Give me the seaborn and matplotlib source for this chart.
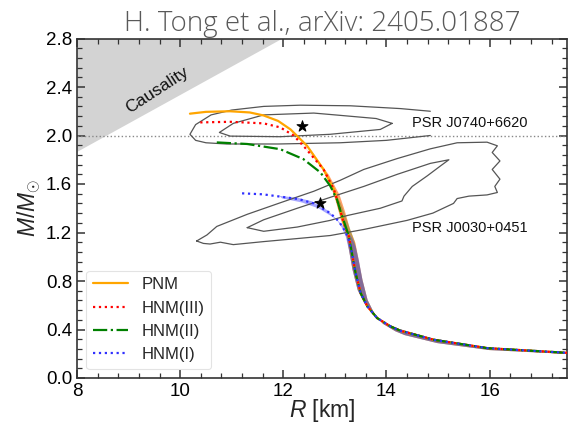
import numpy as np
import matplotlib
matplotlib.use("Agg")
import matplotlib.pyplot as plt
from matplotlib.ticker import MultipleLocator
import seaborn as sns

# ---- mass-radius curves (R in km, M in solar masses) ----
tail_R = [13.33, 13.40, 13.50, 13.63, 13.82, 14.08, 14.27, 14.92, 15.96, 17.6]
tail_M = [1.03, 0.867, 0.70, 0.59, 0.494, 0.425, 0.39, 0.315, 0.246, 0.205]

pnm_R = [10.19, 10.5, 10.97, 11.35, 11.62, 11.9, 12.14, 12.46, 12.78, 12.98, 13.08, 13.17, 13.27]
pnm_M = [2.18, 2.195, 2.2, 2.19, 2.165, 2.12, 2.05, 1.915, 1.72, 1.556, 1.42, 1.28, 1.17]

hnm3_R = [10.39, 10.97, 11.62, 11.94, 12.2, 12.42, 12.78, 12.98, 13.08, 13.17, 13.27]
hnm3_M = [2.108, 2.113, 2.10, 2.067, 2.0, 1.90, 1.72, 1.556, 1.42, 1.28, 1.17]

hnm2_R = [10.71, 11.30, 11.94, 12.39, 12.72, 12.91, 13.04, 13.12, 13.2, 13.27]
hnm2_M = [1.943, 1.93, 1.887, 1.805, 1.695, 1.584, 1.473, 1.36, 1.26, 1.17]

hnm1_R = [11.2, 11.6, 11.94, 12.3, 12.59, 12.91, 13.08, 13.2, 13.27]
hnm1_M = [1.523, 1.515, 1.496, 1.475, 1.44, 1.36, 1.29, 1.21, 1.14]

# uncertainty band widths (pixels) versus mass for each model
pnm_band_M = [0.2, 0.35, 0.6, 0.9, 1.2, 1.5, 1.8, 1.95, 2.05]
pnm_band_w = [2, 8, 14, 14, 13, 12, 10, 6, 0]
hnm3_band_M = [0.2, 0.35, 0.6, 0.9, 1.2, 1.5, 1.75, 1.9, 2.0]
hnm3_band_w = [2, 8, 14, 14, 13, 12, 10, 6, 0]
hnm2_band_M = [0.2, 0.35, 0.6, 0.9, 1.2, 1.4, 1.55, 1.65]
hnm2_band_w = [2, 8, 14, 14, 12, 10, 5, 0]
hnm1_band_M = [0.2, 0.35, 0.6, 0.9, 1.2, 1.35, 1.45, 1.49, 1.51]
hnm1_band_w = [2, 8, 14, 14, 14, 13, 10, 5, 0]

# ---- pulsar constraints (credible-region contours) ----
j0740_outer_R = [14.85, 14.27, 13.3, 12.33, 11.62, 11.0, 10.6, 10.3, 10.19, 10.3, 10.5, 10.9, 11.9, 13.1, 14.0, 14.85]
j0740_outer_M = [2.20, 2.222, 2.245, 2.25, 2.24, 2.21, 2.17, 2.09, 2.01, 1.96, 1.94, 1.93, 1.93, 1.94, 1.96, 2.0]
j0740_inner_R = [14.11, 13.8, 13.0, 12.59, 11.62, 11.03, 10.76, 10.97, 11.94, 12.91, 13.88, 14.11]
j0740_inner_M = [2.10, 2.14, 2.17, 2.185, 2.17, 2.10, 2.025, 1.995, 1.99, 2.01, 2.05, 2.10]

j0030_outer_R = [10.32, 10.52, 10.71, 11.30, 11.94, 12.59, 13.1, 13.56, 14.21, 14.85, 15.37, 15.95,
                 16.15, 16.05, 16.2, 16.05, 16.2, 16.1, 16.15, 15.95, 15.6, 15.37, 15.3, 14.9, 14.4,
                 13.56, 12.91, 12.27, 11.62, 11.03, 10.78, 10.58, 10.45, 10.32]
j0030_outer_M = [1.13, 1.18, 1.25, 1.35, 1.445, 1.54, 1.63, 1.72, 1.81, 1.89, 1.94, 1.945,
                 1.915, 1.86, 1.79, 1.72, 1.64, 1.58, 1.53, 1.51, 1.50, 1.48, 1.44, 1.36, 1.30,
                 1.225, 1.175, 1.15, 1.125, 1.10, 1.12, 1.105, 1.11, 1.13]
j0030_inner_R = [11.30, 11.62, 12.27, 12.91, 13.56, 14.21, 14.85, 15.21, 15.05, 14.79, 14.5, 14.34,
                 14.3, 13.88, 13.24, 12.91, 12.27, 11.62, 11.30]
j0030_inner_M = [1.24, 1.305, 1.40, 1.49, 1.58, 1.68, 1.77, 1.80, 1.75, 1.667, 1.58, 1.50,
                 1.46, 1.40, 1.34, 1.30, 1.245, 1.21, 1.24]

star_R = [12.36, 12.72]
star_M = [2.08, 1.446]

causal_R = [8.0, 11.96]
causal_M = [1.87, 2.8]

x_ticks = [8, 10, 12, 14, 16]
y_ticks = [0.0, 0.4, 0.8, 1.2, 1.6, 2.0, 2.4, 2.8]

sns.set_theme(style="ticks")
plt.rcParams["font.family"] = ["Liberation Sans", "DejaVu Sans"]
plt.rcParams["mathtext.fontset"] = "custom"
plt.rcParams["mathtext.rm"] = "Liberation Sans"
plt.rcParams["mathtext.it"] = "Liberation Sans:italic"

fig = plt.figure(figsize=(5.68, 4.29), dpi=100)
ax = fig.add_axes([77 / 568, 51 / 429, 490 / 568, 339.5 / 429])
ax.set_xlim(8, 17.5)
ax.set_ylim(0, 2.8)

# causality-excluded region
ax.fill_between(causal_R, causal_M, 2.8, color="#d3d3d3", lw=0, zorder=0)
ax.text(9.55, 2.37, "Causality", rotation=33, fontsize=12.5, ha="center", va="center", color="#111")

ax.axhline(2.0, color="#888", ls=":", lw=1.0, zorder=1)

models = [
    ("PNM", pnm_R, pnm_M, pnm_band_M, pnm_band_w, "orange", 0.45, "-"),
    ("HNM(III)", hnm3_R, hnm3_M, hnm3_band_M, hnm3_band_w, "red", 0.25, ":"),
    ("HNM(II)", hnm2_R, hnm2_M, hnm2_band_M, hnm2_band_w, "green", 0.25, "-."),
    ("HNM(I)", hnm1_R, hnm1_M, hnm1_band_M, hnm1_band_w, "#3030ff", 0.42, ":"),
]

for name, R, M, bM, bw, col, a, ls in models:
    sns.lineplot(x=R + tail_R, y=M + tail_M, sort=False, estimator=None, color=col,
                 linestyle=ls, lw=1.6, label=name, ax=ax, zorder=3)

for cR, cM in [(j0740_outer_R, j0740_outer_M), (j0740_inner_R, j0740_inner_M),
               (j0030_outer_R, j0030_outer_M), (j0030_inner_R, j0030_inner_M)]:
    sns.lineplot(x=cR, y=cM, sort=False, estimator=None, color="#555", lw=0.9, ax=ax, zorder=2,
                 legend=False)

sns.scatterplot(x=star_R, y=star_M, marker="*", s=70, color="black", edgecolor="black", ax=ax,
                zorder=4, legend=False)

ax.text(14.49, 2.10, "PSR J0740+6620", fontsize=10.5, ha="left", va="center", color="#111")
ax.text(14.49, 1.24, "PSR J0030+0451", fontsize=10.5, ha="left", va="center", color="#111")

ax.set_xticks(x_ticks)
ax.set_yticks(y_ticks)
ax.xaxis.set_minor_locator(MultipleLocator(0.4))
ax.yaxis.set_minor_locator(MultipleLocator(0.08))
ax.tick_params(which="both", direction="in", top=True, right=True, colors="#333",
               labelcolor="black", labelsize=13.5)
ax.tick_params(which="major", length=6, width=1.1)
ax.tick_params(which="minor", length=3.5, width=0.9)
for s in ax.spines.values():
    s.set_color("#333")
    s.set_linewidth(1.2)

ax.set_xlabel("$R$ [km]", fontsize=16.5, labelpad=-2)
ax.set_ylabel(r"$M/M_{\odot}$", fontsize=16.5, labelpad=2)
ax.set_title("H. Tong et al., arXiv: 2405.01887", fontsize=20, color="#595959",
             family="Open Sans", fontweight="light", pad=0.5)

leg = ax.legend(loc="lower left", fontsize=12, frameon=True, fancybox=True, edgecolor="#dddddd",
                handlelength=2.1, handletextpad=0.8, labelspacing=0.5, borderaxespad=0.55)
leg.get_frame().set_linewidth(0.8)

ax.set_xlim(8, 17.5)
ax.set_ylim(0, 2.8)


def draw_band(R, M, knots_M, knots_w, color, alpha):
    """Shaded uncertainty band swept diagonally (larger R, smaller M) from the curve."""
    R = np.asarray(R, float)
    M = np.asarray(M, float)
    w = np.interp(M, knots_M, knots_w, right=0)
    keep = w > 0
    pts = ax.transData.transform(np.column_stack([R, M]))[keep]
    w = w[keep][:, None]
    d = np.array([1.0, -1.0]) / np.sqrt(2)
    lo = pts - 0.3 * w * d
    hi = pts + 0.7 * w * d
    poly = ax.transData.inverted().transform(np.vstack([lo, hi[::-1]]))
    ax.fill(poly[:, 0], poly[:, 1], color=color, alpha=alpha, lw=0, zorder=1.5)


for name, R, M, bM, bw, col, a, ls in models:
    draw_band(R + tail_R, M + tail_M, bM, bw, col, a)

fig.savefig("out.png", dpi=100)
